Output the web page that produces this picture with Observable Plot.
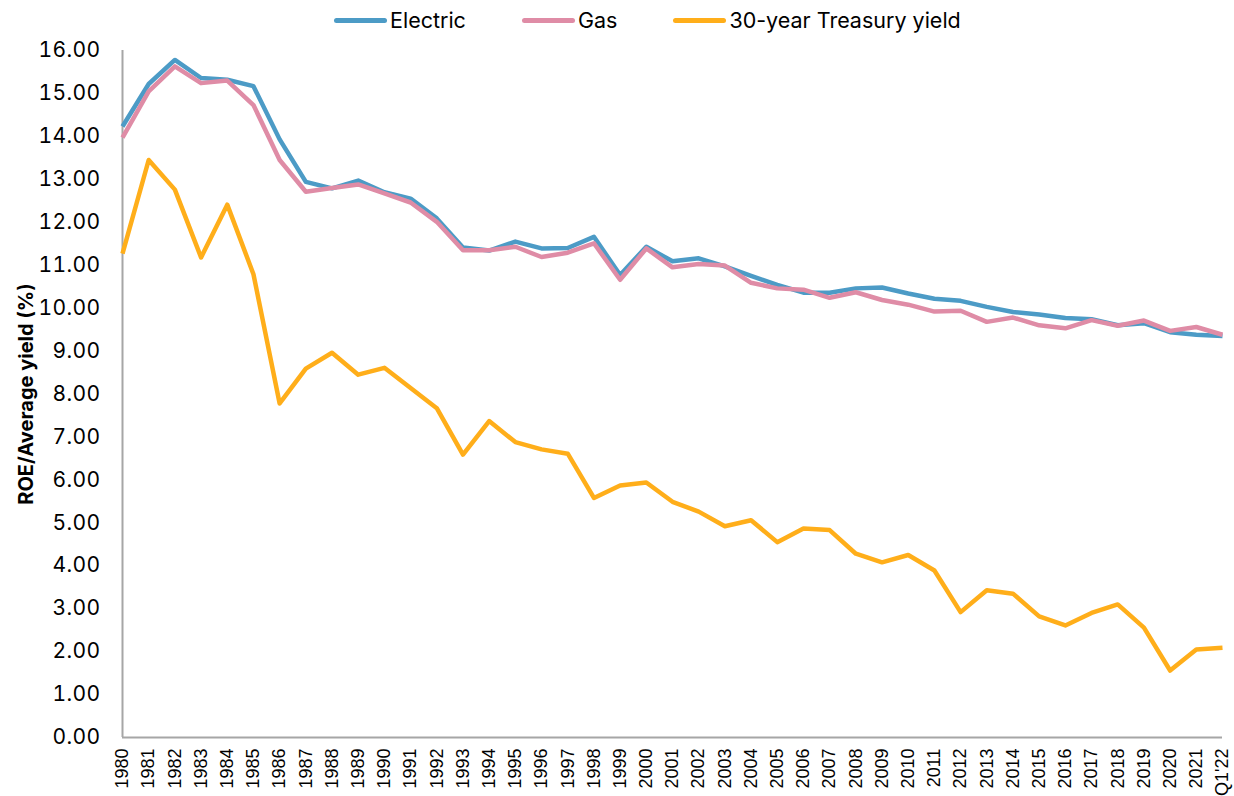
<!DOCTYPE html>
<html>
<head>
<meta charset="utf-8">
<script src="https://cdn.jsdelivr.net/npm/d3@7"></script>
<script src="https://cdn.jsdelivr.net/npm/@observablehq/plot@0.6"></script>
<style>
  html, body { margin: 0; padding: 0; background: #fff; }
  body { width: 1234px; height: 796px; overflow: hidden; font-family: Inter, "Liberation Sans", Arial, sans-serif; }
  #legend { height: 36px; padding-top: 4px; display: flex; align-items: center; padding-left: 334px; box-sizing: border-box; font-size: 21.5px; color: #000; }
  .item { display: flex; align-items: center; margin-right: 56px; }
  .sw { width: 53px; height: 5px; border-radius: 3px; margin-right: 3px; }
</style>
</head>
<body>
<div id="legend"></div>
<div id="chart"></div>
<script>
const years = ["1980","1981","1982","1983","1984","1985","1986","1987","1988","1989","1990","1991","1992","1993","1994","1995","1996","1997","1998","1999","2000","2001","2002","2003","2004","2005","2006","2007","2008","2009","2010","2011","2012","2013","2014","2015","2016","2017","2018","2019","2020","2021","Q1'22"];
const electric = [14.23,15.22,15.78,15.36,15.32,15.17,13.93,12.94,12.79,12.97,12.70,12.55,12.09,11.41,11.34,11.55,11.39,11.40,11.66,10.77,11.43,11.09,11.16,10.97,10.75,10.54,10.36,10.36,10.46,10.48,10.34,10.22,10.17,10.03,9.91,9.85,9.77,9.74,9.60,9.65,9.44,9.38,9.35];
const gas = [13.97,15.05,15.63,15.24,15.30,14.73,13.45,12.71,12.80,12.88,12.67,12.46,12.01,11.35,11.35,11.43,11.19,11.29,11.51,10.66,11.39,10.95,11.03,10.99,10.59,10.46,10.43,10.24,10.37,10.19,10.08,9.92,9.94,9.68,9.78,9.60,9.53,9.72,9.59,9.71,9.47,9.56,9.38];
const treasury = [11.27,13.45,12.76,11.18,12.41,10.79,7.78,8.59,8.96,8.45,8.61,8.14,7.67,6.59,7.37,6.88,6.71,6.61,5.58,5.87,5.94,5.49,5.26,4.92,5.06,4.55,4.87,4.83,4.28,4.08,4.25,3.89,2.92,3.43,3.35,2.82,2.61,2.90,3.10,2.56,1.56,2.05,2.09];
const seriesNames = ["Electric", "Gas", "30-year Treasury yield"];
const seriesColors = ["#4c9bc6", "#df8ca6", "#ffae1a"];
const yTicks = d3.range(0, 16.01, 1);

const seriesValues = [electric, gas, treasury];
const data = [];
seriesNames.forEach((name, s) => {
  years.forEach((yr, i) => data.push({year: yr, value: seriesValues[s][i], series: name}));
});

// legend
const legend = document.getElementById("legend");
seriesNames.forEach((name, i) => {
  const it = document.createElement("div");
  it.className = "item";
  const sw = document.createElement("div");
  sw.className = "sw";
  sw.style.background = seriesColors[i];
  const tx = document.createElement("span");
  tx.textContent = name;
  it.appendChild(sw); it.appendChild(tx);
  legend.appendChild(it);
});

const chart = Plot.plot({
  width: 1234,
  height: 760,
  marginTop: 14,
  marginBottom: 59,
  marginLeft: 122,
  marginRight: 12,
  style: { fontFamily: "Inter, Liberation Sans, Arial, sans-serif", fontSize: "20px", color: "#000", background: "#fff" },
  x: { type: "point", domain: years, padding: 0, round: false },
  y: { domain: [0, 16] },
  color: { domain: seriesNames, range: seriesColors },
  marks: [
    Plot.ruleY([0], { stroke: "#a6a6a6", strokeWidth: 2 }),
    Plot.ruleX([years[0]], { y1: 0, y2: 16, stroke: "#a6a6a6", strokeWidth: 2 }),
    Plot.axisY({
      ticks: yTicks, tickFormat: d => d.toFixed(2), tickSize: 0, tickPadding: 22,
      fontSize: 21, label: "ROE/Average yield (%)", labelAnchor: "center", labelArrow: "none", labelOffset: 104
    }),
    Plot.axisX({ tickSize: 0, tickRotate: -90, tickPadding: 11, fontSize: 18, fontFamily: "Liberation Sans, Arial, sans-serif", label: null }),
    Plot.line(data, { x: "year", y: "value", z: "series", stroke: "series", strokeWidth: 4.5, strokeLinejoin: "round", strokeLinecap: "butt" })
  ]
});
d3.select(chart).selectAll("[aria-label='y-axis tick label'] text").style("letter-spacing", "0.4px");
d3.select(chart).selectAll("[aria-label='y-axis label'] text").style("font-weight", "bold").style("font-size", "20px");
document.getElementById("chart").appendChild(chart);
</script>
</body>
</html>
